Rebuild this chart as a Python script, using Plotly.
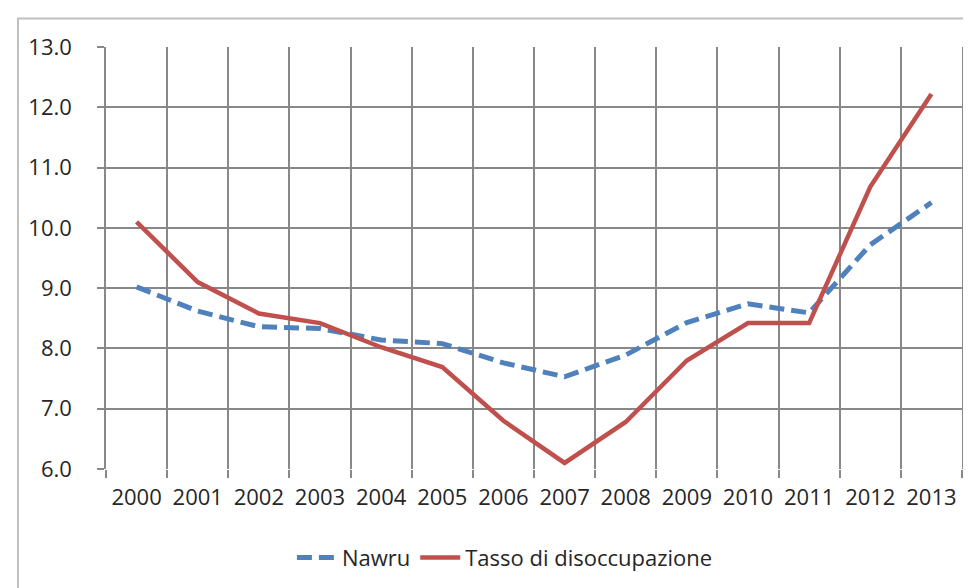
import plotly.graph_objects as go

years = ["2000", "2001", "2002", "2003", "2004", "2005", "2006",
         "2007", "2008", "2009", "2010", "2011", "2012", "2013"]
nawru = [9.02, 8.62, 8.36, 8.33, 8.14, 8.08, 7.76, 7.53, 7.89, 8.43, 8.74, 8.59, 9.72, 10.42]
tasso = [10.1, 9.1, 8.58, 8.42, 8.02, 7.69, 6.8, 6.1, 6.78, 7.8, 8.42, 8.42, 10.68, 12.22]

y_ticks = [6, 7, 8, 9, 10, 11, 12, 13]

FONT = "Open Sans"
GRID = "#888888"

fig = go.Figure()
fig.add_trace(go.Scatter(
    x=years, y=nawru, name="Nawru", mode="lines",
    line=dict(color="#4f81bd", width=5, dash="15px,7px"),
))
fig.add_trace(go.Scatter(
    x=years, y=tasso, name="Tasso di disoccupazione", mode="lines",
    line=dict(color="#c0504d", width=4.5),
))

fig.update_layout(
    width=971, height=588,
    margin=dict(l=98, r=17, t=39, b=127),
    paper_bgcolor="white", plot_bgcolor="white",
    font=dict(family=FONT, size=22, color="#262626"),
    showlegend=True,
    legend=dict(orientation="h", x=0.466, xanchor="center", y=-0.21, yanchor="middle",
                font=dict(size=22), bgcolor="rgba(0,0,0,0)", tracegroupgap=0,
                itemwidth=40),
    xaxis=dict(
        type="category", tickson="boundaries", range=[-0.5, len(years) - 0.5],
        showgrid=True, gridcolor=GRID, gridwidth=1.5,
        ticks="outside", ticklen=8, tickcolor=GRID, tickwidth=1.5,
        showline=False, zeroline=False, tickangle=0, automargin=False,
        ticklabelstandoff=13,
        tickfont=dict(size=22),
    ),
    yaxis=dict(
        range=[6, 13], tickvals=y_ticks, tickformat=".1f",
        showgrid=True, gridcolor=GRID, gridwidth=1.5,
        ticks="outside", ticklen=7, tickcolor=GRID, tickwidth=1.5,
        showline=True, linecolor=GRID, linewidth=1.5, mirror=True,
        zeroline=False, ticklabelstandoff=21, automargin=False,
        tickfont=dict(size=22),
    ),
    shapes=[dict(
        type="rect", xref="paper", yref="paper",
        x0=-0.1028, x1=1.2, y0=-0.6, y1=1.0675,
        line=dict(color="#bfbfbf", width=2), layer="below",
    )],
)

fig.write_html("out.html")
